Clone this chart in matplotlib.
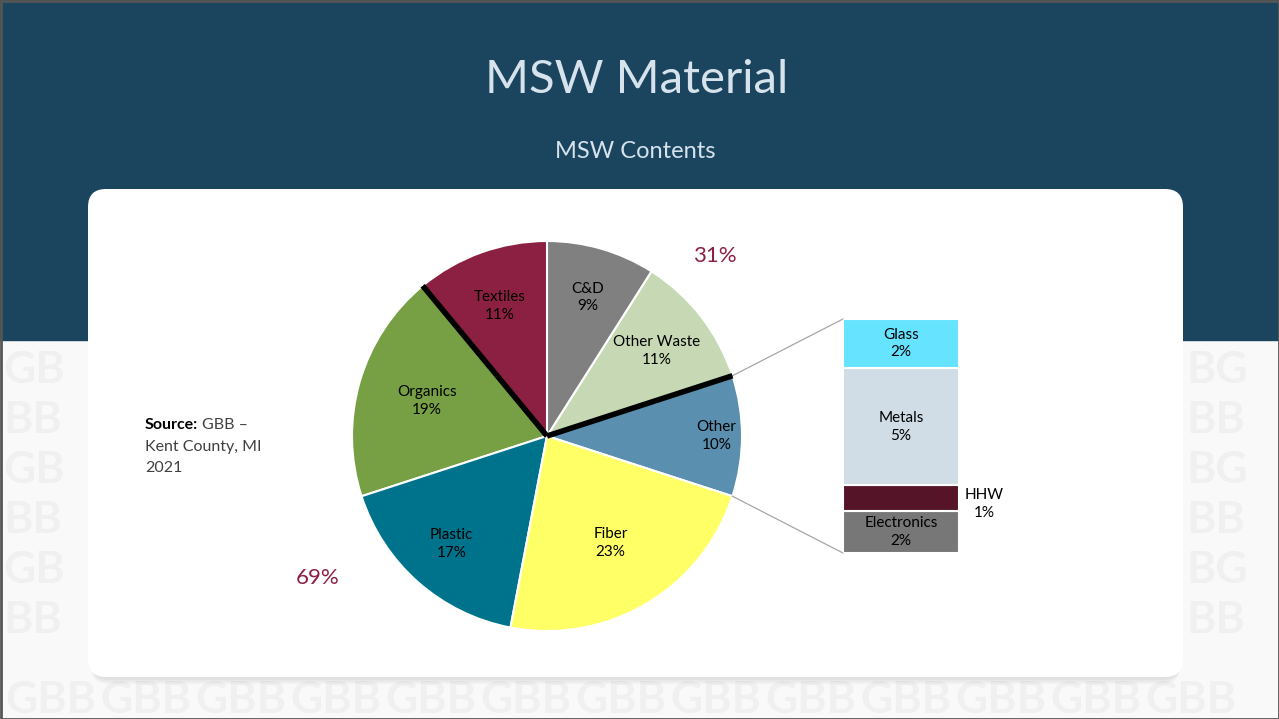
import numpy as np
import matplotlib
matplotlib.use('Agg')
import matplotlib.pyplot as plt
from matplotlib.patches import FancyBboxPatch, Rectangle

plt.rcParams['font.family'] = ['Lato', 'DejaVu Sans']

# pie data (counterclockwise from the "Other" slice)
pie_labels = ['Other', 'Other Waste', 'C&D', 'Textiles', 'Organics', 'Plastic', 'Fiber']
pie_values = [10, 11, 9, 11, 19, 17, 23]
pie_colors = ['#5A8FAF', '#C6D9B4', '#808080', '#8C2042', '#779F43', '#00738C', '#FFFF66']

# breakdown of "Other" (bottom to top)
bar_labels = ['Electronics', 'HHW', 'Metals', 'Glass']
bar_values = [1.8, 1.1, 5.0, 2.1]
bar_text = ['2%', '1%', '5%', '2%']
bar_colors = ['#777777', '#561428', '#D0DDE6', '#66E3FF']

group_labels = ['31%', '69%']

W, H = 1279, 719
fig = plt.figure(figsize=(W / 100, H / 100), dpi=100)
ax = fig.add_axes([0, 0, 1, 1])
ax.set_xlim(0, W)
ax.set_ylim(0, H)
ax.axis('off')

def Y(y):
    return H - y

# background with faint logo pattern in the visible strips
ax.add_patch(Rectangle((0, 0), W, H, color='#F9F9F9', zorder=0))
pat = dict(fontsize=32, fontweight='bold', color='#F0F0F0', va='center', ha='left', zorder=0.5)
for i, yy in enumerate(range(370, 670, 50)):
    ax.text(3, Y(yy), 'GB' if i % 2 == 0 else 'BB', **pat)
    ax.text(1186, Y(yy), 'BG' if i % 2 == 0 else 'BB', **pat)
for xx in range(5, 1200, 95):
    ax.text(xx, Y(700), 'GBB', **pat)
ax.add_patch(Rectangle((0, Y(340)), W, 340, color='#1B455E', zorder=1))
ax.add_patch(Rectangle((0.5, 0.5), W - 1, H - 1, fill=False, ec='#555555', lw=2, zorder=10))

# card with soft shadow
for k in range(3):
    ax.add_patch(FancyBboxPatch((88 + 3, Y(677) - 3 - k * 2), 1095 - 6, 488,
                                boxstyle='round,pad=0,rounding_size=18',
                                fc='black', ec='none', alpha=0.03, zorder=1.5))
ax.add_patch(FancyBboxPatch((88, Y(677)), 1095, 488, boxstyle='round,pad=0,rounding_size=18',
                            fc='white', ec='none', zorder=2))

# titles
ax.text(637, Y(80), 'MSW Material', fontsize=34, color='#D6E3ED', ha='center', va='center', zorder=3)
ax.text(635, Y(152), 'MSW Contents', fontsize=17, color='#D6E3ED', ha='center', va='center', zorder=3)

# pie
cx, cy, r = 547, Y(436), 195
start = -18
wedges, _ = ax.pie(pie_values, colors=pie_colors, startangle=start, counterclock=True,
                   center=(cx, cy), radius=r, frame=True,
                   wedgeprops=dict(edgecolor='white', linewidth=1.5))
for w in wedges:
    w.set_zorder(3)
ax.set_xlim(0, W)
ax.set_ylim(0, H)
ax.set_aspect('equal')
ax.axis('off')

dists = [0.87, 0.71, 0.74, 0.71, 0.64, 0.74, 0.64]
cum = np.cumsum([0] + pie_values)
for i, lab in enumerate(pie_labels):
    mid = np.deg2rad(start + (cum[i] + cum[i + 1]) / 2 * 3.6)
    tx = cx + dists[i] * r * np.cos(mid)
    ty = cy + dists[i] * r * np.sin(mid)
    ax.text(tx, ty, f'{lab}\n{pie_values[i]}%', ha='center', va='center', fontsize=11,
            color='black', linespacing=1.35, zorder=5)

# thick separators between the 31% and 69% groups
for b in [1, 4]:
    ang = np.deg2rad(start + cum[b] * 3.6)
    ax.plot([cx, cx + r * np.cos(ang)], [cy, cy + r * np.sin(ang)], color='black', lw=4,
            solid_capstyle='butt', zorder=4)

ax.text(715, Y(256), group_labels[0], fontsize=16, color='#8C2042', ha='center', va='center', zorder=5)
ax.text(318, Y(578), group_labels[1], fontsize=16, color='#8C2042', ha='center', va='center', zorder=5)

# connector lines to the breakdown bar
bx0, bx1, by_top, by_bot = 843, 959, Y(319), Y(553)
a_top = np.deg2rad(start + pie_values[0] * 3.6)
a_bot = np.deg2rad(start)
ax.plot([cx + r * np.cos(a_top), bx0], [cy + r * np.sin(a_top), by_top], color='#A6A6A6', lw=0.9, zorder=3)
ax.plot([cx + r * np.cos(a_bot), bx0], [cy + r * np.sin(a_bot), by_bot], color='#A6A6A6', lw=0.9, zorder=3)

# breakdown bar
bax = fig.add_axes([bx0 / W, by_bot / H, (bx1 - bx0) / W, (by_top - by_bot) / H])
bax.set_xlim(-0.5, 0.5)
bax.set_ylim(0, sum(bar_values))
bax.axis('off')
bottom = 0
for lab, v, t, c in zip(bar_labels, bar_values, bar_text, bar_colors):
    bax.bar(0, v, bottom=bottom, width=1.0, color=c, edgecolor='white', linewidth=1.5)
    if lab == 'HHW':
        bax.text(0.72, bottom + v / 2 - 0.25, f'{lab}\n{t}', ha='center', va='center',
                 fontsize=11, linespacing=1.35, clip_on=False)
    else:
        bax.text(0, bottom + v / 2, f'{lab}\n{t}', ha='center', va='center',
                 fontsize=11, linespacing=1.35)
    bottom += v

# source note
ax.text(145, Y(425), 'Source:', fontsize=11.5, color='black', fontweight='bold', ha='left', va='center', zorder=5)
ax.text(202, Y(425), 'GBB –', fontsize=11.5, color='#404040', ha='left', va='center', zorder=5)
ax.text(145, Y(447), 'Kent County, MI', fontsize=11.5, color='#404040', ha='left', va='center', zorder=5)
ax.text(145, Y(468), '2021', fontsize=11.5, color='#404040', ha='left', va='center', zorder=5)

fig.savefig('out.png', dpi=100)
